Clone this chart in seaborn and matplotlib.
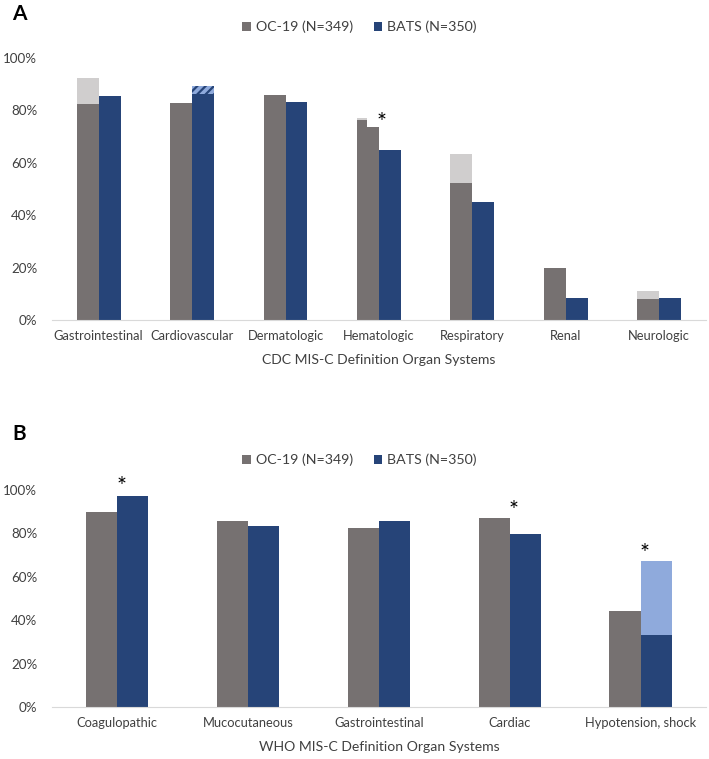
import pandas as pd
import seaborn as sns
import matplotlib.pyplot as plt
from matplotlib.ticker import PercentFormatter

# ---- data (percent of patients) ----
cdc_systems = ["Gastrointestinal", "Cardiovascular", "Dermatologic", "Hematologic",
               "Respiratory", "Renal", "Neurologic"]
cdc_oc19 = [82.4, 82.9, 85.9, 73.8, 52.3, 19.7, 8.0]
cdc_oc19_total = [92.4, 82.9, 85.9, 73.8, 63.2, 19.7, 11.2]   # incl. light-grey part
cdc_bats = [85.5, 86.3, 83.3, 64.9, 45.0, 8.5, 8.5]
cdc_bats_total = [85.5, 89.3, 83.3, 64.9, 45.0, 8.5, 8.5]     # incl. hatched part
hem_step = 76.3        # left half of the OC-19 hematologic bar
hem_step_total = 77.2
cdc_stars = {"Hematologic": 77.5}

who_systems = ["Coagulopathic", "Mucocutaneous", "Gastrointestinal", "Cardiac",
               "Hypotension, shock"]
who_oc19 = [90.0, 85.8, 82.6, 87.2, 44.4]
who_oc19_total = [90.0, 85.8, 82.6, 87.2, 44.4]
who_bats = [97.2, 83.4, 85.7, 79.6, 33.2]
who_bats_total = [97.2, 83.4, 85.7, 79.6, 67.1]
who_stars = {"Coagulopathic": 104.6, "Cardiac": 93.1, "Hypotension, shock": 73.7}

groups = ["OC-19 (N=349)", "BATS (N=350)"]
dark = {groups[0]: "#767171", groups[1]: "#264478"}
light = {groups[0]: "#D0CECE", groups[1]: "#8FAADC"}
TXT = "#404040"

sns.set_style("white")
plt.rcParams['font.family'] = ['Lato', 'DejaVu Sans']
plt.rcParams['hatch.linewidth'] = 1.6

fig = plt.figure(figsize=(7.09, 7.59), dpi=100)
renderer = fig.canvas.get_renderer()


def fit_size(text, px, base=10):
    # font size giving the text the pixel width measured on the reference
    t = fig.text(0, 0, text, fontsize=base)
    w = t.get_window_extent(renderer).width
    t.remove()
    return base * px / w


TICK_FS = fit_size("Gastrointestinal", 90)
YTICK_FS = fit_size("100%", 34)
LEG_FS = fit_size("OC-19 (N=349)", 97)
XLAB_FS = fit_size("CDC MIS-C Definition Organ Systems", 234)


def long_df(cats, oc, bats):
    return pd.DataFrame({
        "system": cats * 2,
        "group": [groups[0]] * len(cats) + [groups[1]] * len(cats),
        "pct": list(oc) + list(bats),
    })


def panel(ax, cats, oc, oc_tot, bats, bats_tot, width, xlabel, stars, leg_x, leg_y):
    tot = long_df(cats, oc_tot, bats_tot)
    main = long_df(cats, oc, bats)
    sns.barplot(data=tot, x="system", y="pct", hue="group", hue_order=groups,
                palette=light, width=width, saturation=1, legend=False,
                errorbar=None, linewidth=0, ax=ax)
    sns.barplot(data=main, x="system", y="pct", hue="group", hue_order=groups,
                palette=dark, width=width, saturation=1, legend=True,
                errorbar=None, linewidth=0, ax=ax)
    for name, y in stars.items():
        ax.annotate("*", (cats.index(name) + 0.03, y), xytext=(0, -4.3),
                    textcoords="offset points", ha="center", va="center",
                    fontsize=17, color="black", annotation_clip=False)
    ax.set_ylim(0, 100)
    ax.set_xlim(-0.5, len(cats) - 0.5)
    ax.yaxis.set_major_locator(plt.MultipleLocator(20))
    ax.yaxis.set_major_formatter(PercentFormatter(100, decimals=0))
    ax.set_xlabel(xlabel, fontsize=XLAB_FS, color=TXT, labelpad=9)
    ax.set_ylabel("")
    ax.tick_params(axis="y", length=0, pad=10.5, labelsize=YTICK_FS, labelcolor=TXT)
    ax.tick_params(axis="x", length=0, pad=7, labelsize=TICK_FS, labelcolor=TXT)
    sns.despine(ax=ax, left=True)
    ax.spines["bottom"].set_color("#D9D9D9")
    sns.move_legend(ax, "center", bbox_to_anchor=(leg_x, leg_y),
                    bbox_transform=fig.transFigure, ncol=2, frameon=False,
                    title=None, fontsize=LEG_FS, handlelength=0.6, handleheight=0.6,
                    handletextpad=0.35, columnspacing=1.45)
    for t in ax.get_legend().get_texts():
        t.set_color(TXT)
    return ax


ax1 = fig.add_axes([0.0733, 0.5784, 0.9224, 0.3452])
ax2 = fig.add_axes([0.0733, 0.0685, 0.9224, 0.2859])

panel(ax1, cdc_systems, cdc_oc19, cdc_oc19_total, cdc_bats, cdc_bats_total, 0.47,
      "CDC MIS-C Definition Organ Systems", cdc_stars, 0.507, 1 - 27 / 759)
panel(ax2, who_systems, who_oc19, who_oc19_total, who_bats, who_bats_total, 0.475,
      "WHO MIS-C Definition Organ Systems", who_stars, 0.507, 1 - 460 / 759)

# hatched extra on the BATS cardiovascular bar (light layer, second hue container)
ci = cdc_systems.index("Cardiovascular")
hp = ax1.containers[1][ci]
hp.set_hatch("////")
hp.set_edgecolor(dark[groups[1]])
hp.set_linewidth(0)

# stepped OC-19 hematologic bar
hi = cdc_systems.index("Hematologic")
p = ax1.containers[2][hi]
ax1.bar(p.get_x(), hem_step_total, width=p.get_width() * 0.45, align="edge",
        color=light[groups[0]], linewidth=0)
ax1.bar(p.get_x(), hem_step, width=p.get_width() * 0.45, align="edge",
        color=dark[groups[0]], linewidth=0)

fig.text(0.017, 1 - 14 / 759, "A", fontsize=15, fontweight="bold", color="black",
         va="center")
fig.text(0.017, 1 - 434 / 759, "B", fontsize=15, fontweight="bold", color="black",
         va="center")

fig.savefig("out.png", dpi=100)
